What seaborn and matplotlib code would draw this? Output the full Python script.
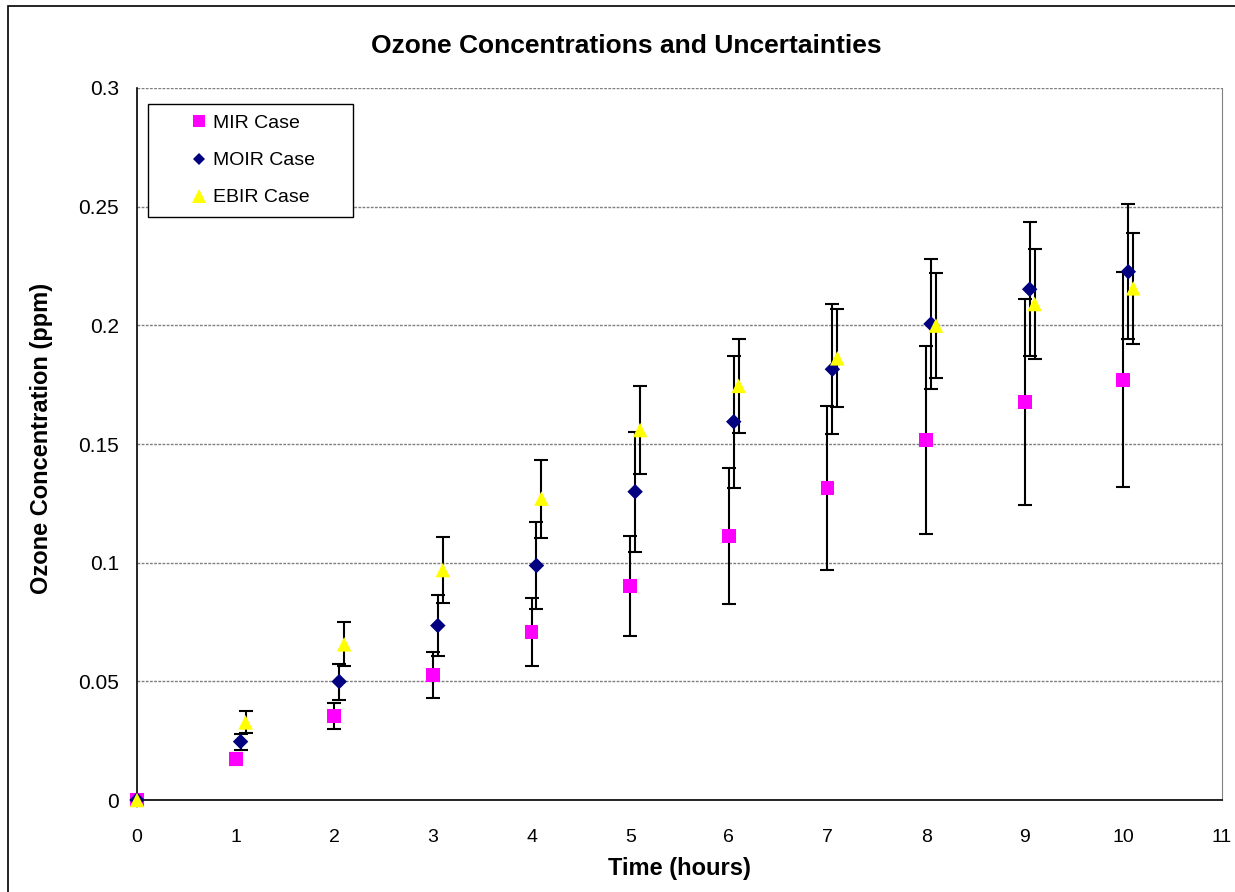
import matplotlib
matplotlib.use("Agg")
import pandas as pd
import seaborn as sns
import matplotlib.pyplot as plt
from matplotlib.patches import Rectangle
from matplotlib.ticker import FuncFormatter, MultipleLocator

# values (ppm), error = +/- half-width of bar
cases = ["MIR Case", "MOIR Case", "EBIR Case"]

mir_time = [0, 1, 2, 3, 4, 5, 6, 7, 8, 9, 10]
mir_conc = [0, 0.0171, 0.0354, 0.0528, 0.0708, 0.0902, 0.1113, 0.1315, 0.1517, 0.1677, 0.1770]
mir_err = [0, 0.0025, 0.0054, 0.0097, 0.0143, 0.0210, 0.0287, 0.0345, 0.0397, 0.0432, 0.0453]

moir_time = [0, 1.05, 2.05, 3.05, 4.05, 5.05, 6.05, 7.05, 8.05, 9.05, 10.05]
moir_conc = [0, 0.0246, 0.0499, 0.0735, 0.0988, 0.1299, 0.1594, 0.1815, 0.2006, 0.2152, 0.2226]
moir_err = [0, 0.0034, 0.0076, 0.0127, 0.0185, 0.0253, 0.0278, 0.0273, 0.0275, 0.0283, 0.0284]

ebir_time = [0, 1.1, 2.1, 3.1, 4.1, 5.1, 6.1, 7.1, 8.1, 9.1, 10.1]
ebir_conc = [0, 0.0327, 0.0656, 0.0969, 0.1270, 0.1559, 0.1745, 0.1861, 0.1999, 0.2090, 0.2156]
ebir_err = [0, 0.0046, 0.0093, 0.0138, 0.0164, 0.0186, 0.0199, 0.0207, 0.0223, 0.0232, 0.0235]

colors = {"MIR Case": "#FF00FF", "MOIR Case": "#000080", "EBIR Case": "#FFFF00"}
markers = {"MIR Case": "s", "MOIR Case": "D", "EBIR Case": "^"}
sizes = {"MIR Case": 100, "MOIR Case": 62, "EBIR Case": 110}
legend_ms = {"MIR Case": 9, "MOIR Case": 6.3, "EBIR Case": 9.5}


def build_frame():
    parts = []
    for name, t, c, e in [
        (cases[0], mir_time, mir_conc, mir_err),
        (cases[1], moir_time, moir_conc, moir_err),
        (cases[2], ebir_time, ebir_conc, ebir_err),
    ]:
        parts.append(pd.DataFrame({"Time": t, "Conc": c, "Err": e, "Case": name}))
    return pd.concat(parts, ignore_index=True)


def main():
    data = build_frame()
    sns.set_style("white")
    plt.rcParams["font.family"] = ["Liberation Sans", "DejaVu Sans"]
    plt.rcParams["text.color"] = "black"
    plt.rcParams["axes.labelcolor"] = "black"
    plt.rcParams["xtick.color"] = "black"
    plt.rcParams["ytick.color"] = "black"

    fig = plt.figure(figsize=(12.35, 8.92), dpi=100)
    ax = fig.add_axes([137 / 1235, 1 - 800 / 892, 1085 / 1235, 712 / 892])

    # error bars first so the markers sit on top
    for name in cases:
        sub = data[data["Case"] == name]
        ax.errorbar(sub["Time"], sub["Conc"], yerr=sub["Err"], fmt="none",
                    ecolor="black", elinewidth=1.5, capsize=5, capthick=1.5,
                    zorder=2)

    sns.scatterplot(data=data, x="Time", y="Conc", hue="Case", style="Case",
                    size="Case", palette=colors, markers=markers, sizes=sizes,
                    linewidth=0, ax=ax, zorder=3, clip_on=False)

    ax.set_xlim(0, 11)
    ax.set_ylim(0, 0.3)
    ax.xaxis.set_major_locator(MultipleLocator(1))
    ax.yaxis.set_major_locator(MultipleLocator(0.05))
    ax.yaxis.set_major_formatter(FuncFormatter(lambda v, p: "%g" % round(v, 2)))
    ax.tick_params(axis="both", direction="out", length=6, width=1,
                   color="black", labelcolor="black", labelsize=14)
    ax.tick_params(axis="x", pad=15)
    ax.tick_params(axis="y", pad=7, labelsize=15)

    ax.yaxis.grid(True, linestyle=(0, (2, 1)), color="#7f7f7f", linewidth=1)
    ax.set_axisbelow(True)
    ax.spines["top"].set_visible(False)
    ax.spines["right"].set_color("#808080")
    ax.spines["left"].set_color("black")
    ax.spines["bottom"].set_color("black")
    ax.spines["left"].set_linewidth(1.2)
    ax.spines["bottom"].set_linewidth(1.2)

    ax.set_xlabel("Time (hours)", fontsize=17, fontweight="bold", va="center")
    ax.xaxis.set_label_coords(0.5, -68 / 712)
    ax.set_ylabel("Ozone Concentration (ppm)", fontsize=17, fontweight="bold",
                  va="center")
    ax.yaxis.set_label_coords(-95 / 1085, 362 / 712)

    fig.text(626 / 1235, 1 - 46 / 892, "Ozone Concentrations and Uncertainties",
             ha="center", va="center", fontsize=19, fontweight="bold")

    sns.move_legend(ax, "upper left",
                    bbox_to_anchor=(11 / 1085, (696 - 116) / 712, 205 / 1085, 116 / 712),
                    mode="expand", title=None, fontsize=14, frameon=True,
                    fancybox=False, edgecolor="black", framealpha=1,
                    borderpad=0.55, handlelength=4.1, handletextpad=-1.3,
                    labelspacing=1.0, borderaxespad=0)
    leg = ax.get_legend()
    leg.get_frame().set_linewidth(1)
    for handle, text in zip(leg.legend_handles, leg.get_texts()):
        if hasattr(handle, "set_markersize"):
            handle.set_markersize(legend_ms[text.get_text()])

    # outer chart-area border (cropped at right and bottom in the original)
    fig.patches.append(Rectangle((8 / 1235, -0.1), 1.2, 1 - 6 / 892 + 0.1,
                                 transform=fig.transFigure, fill=False,
                                 edgecolor="black", linewidth=1.2))

    fig.savefig("out.png", dpi=100)


if __name__ == "__main__":
    main()
